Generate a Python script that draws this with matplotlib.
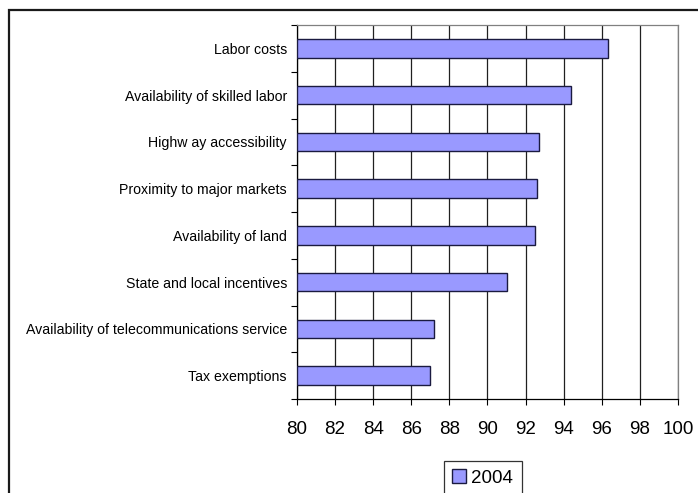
import matplotlib
matplotlib.use("Agg")
import matplotlib.pyplot as plt
from matplotlib.patches import Rectangle
import numpy as np

plt.rcParams['font.family'] = ['Liberation Sans', 'DejaVu Sans']

categories = [
    "Labor costs",
    "Availability of skilled labor",
    "Highw ay accessibility",
    "Proximity to major markets",
    "Availability of land",
    "State and local incentives",
    "Availability of telecommunications service",
    "Tax exemptions",
]
values_2004 = [96.3, 94.4, 92.7, 92.6, 92.5, 91.0, 87.2, 87.0]
x_ticks = [80, 82, 84, 86, 88, 90, 92, 94, 96, 98, 100]
series_name = "2004"

W, H = 698, 493
fig = plt.figure(figsize=(W / 100, H / 100), dpi=100)
fig.patch.set_facecolor("white")

# outer chart-area frame (runs off the right and bottom edges)
fig.patches.append(Rectangle((8.5 / W, -0.1), 1.2, 1 - 10.5 / H + 0.1,
                             transform=fig.transFigure, fill=False,
                             edgecolor="#1a1a1a", linewidth=1.6, zorder=0))

left, right, top, bottom = 297 / W, 678 / W, 1 - 25 / H, 1 - 399 / H
ax = fig.add_axes([left, bottom, right - left, top - bottom])

y = np.arange(len(categories))
ax.barh(y, [v - 80 for v in values_2004], left=80, height=0.4,
        color="#9999ff", edgecolor="#1a1a40", linewidth=1.0, zorder=3,
        label=series_name)

ax.set_xlim(80, 100)
ax.set_ylim(len(categories) - 0.5, -0.5)

ax.set_xticks(x_ticks)
ax.set_xticklabels([str(t) for t in x_ticks], fontsize=13.5)
ax.tick_params(axis="x", direction="out", length=4.3, width=0.8,
               color="black", pad=11.5)

ax.set_yticks(y)
ax.set_yticklabels(categories, fontsize=10.2)
ax.tick_params(axis="y", which="major", length=0, pad=7.2)
ax.set_yticks(np.arange(-0.5, len(categories)), minor=True)
ax.tick_params(axis="y", which="minor", direction="out", length=4.3,
               width=0.8, color="black")

ax.xaxis.grid(True, color="#202020", linewidth=0.9, zorder=1)
ax.set_axisbelow(True)

for side in ("left", "bottom"):
    ax.spines[side].set_color("black")
    ax.spines[side].set_linewidth(0.9)
for side in ("top", "right"):
    ax.spines[side].set_color("#808080")
    ax.spines[side].set_linewidth(0.9)

leg = fig.legend(loc="upper left", bbox_to_anchor=(444 / W, 1 - 461 / H),
                 fontsize=13.5, frameon=True, fancybox=False,
                 handlelength=0.7, handleheight=0.7, handletextpad=0.3,
                 borderpad=0.45, borderaxespad=0)
leg.get_frame().set_edgecolor("black")
leg.get_frame().set_linewidth(0.9)

fig.savefig("out.png", dpi=100, facecolor="white")
